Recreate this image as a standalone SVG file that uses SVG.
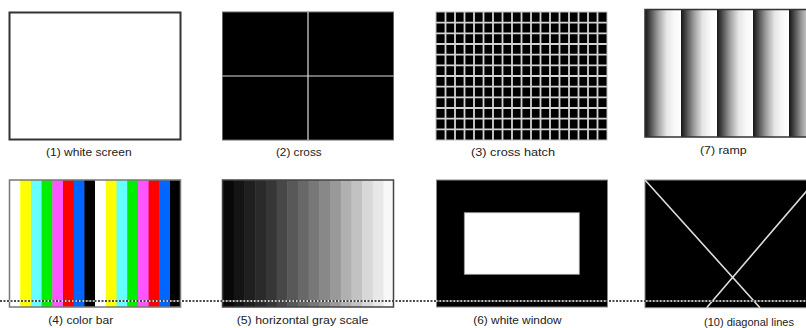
<svg xmlns="http://www.w3.org/2000/svg" width="806" height="328" viewBox="0 0 806 328">
<style>
.lbl{font-family:"Liberation Sans",Arial,sans-serif;font-size:11.5px;fill:#222;text-anchor:middle}
.frame{fill:none;stroke:#333;stroke-width:1.5}
.grid{fill:none;stroke:#d4d4d4;stroke-width:1.8}
.bar{height:127px}
</style>
<defs>
<linearGradient id="ramp" x1="0" y1="0" x2="1" y2="0">
<stop offset="0" stop-color="#151515"/>
<stop offset="0.1" stop-color="#3a3a3a"/>
<stop offset="0.35" stop-color="#9a9a9a"/>
<stop offset="0.6" stop-color="#e6e6e6"/>
<stop offset="0.8" stop-color="#f8f8f8"/>
<stop offset="1" stop-color="#ffffff"/>
</linearGradient>
</defs>
<rect width="806" height="328" fill="#fff"/>

<g id="p1-white-screen">
<rect x="9.5" y="12.5" width="171" height="127" fill="#fff" stroke="#333" stroke-width="2"/>
<text class="lbl" x="88.8" y="156" textLength="85.7" lengthAdjust="spacingAndGlyphs">(1) white screen</text>
</g>

<g id="p2-cross">
<rect x="222.5" y="12" width="171" height="128" fill="#000" stroke="#666" stroke-width="1"/>
<path d="M308 12V140M222.5 76H393.5" stroke="#ddd" stroke-width="1.2" fill="none"/>
<text class="lbl" x="298.8" y="156" textLength="45.7" lengthAdjust="spacingAndGlyphs">(2) cross</text>
</g>

<g id="p3-cross-hatch">
<rect x="436" y="12" width="171" height="128" fill="#000"/>
<path class="grid" d="M445.5 12V140M455 12V140M464.5 12V140M474 12V140M483.5 12V140M493 12V140M502.5 12V140M512 12V140M521.5 12V140M531 12V140M540.5 12V140M550 12V140M559.5 12V140M569 12V140M578.5 12V140M588 12V140M597.5 12V140M436 22.67H607M436 33.33H607M436 44H607M436 54.67H607M436 65.33H607M436 76H607M436 86.67H607M436 97.33H607M436 108H607M436 118.67H607M436 129.33H607"/>
<rect x="436" y="12" width="171" height="128" fill="none" stroke="#bbb" stroke-width="1"/>
<text class="lbl" x="513" y="156" textLength="84" lengthAdjust="spacingAndGlyphs">(3) cross hatch</text>
</g>

<g id="p7-ramp">
<rect x="645" y="9.5" width="36" height="127.5" fill="url(#ramp)"/>
<rect x="681" y="9.5" width="36" height="127.5" fill="url(#ramp)"/>
<rect x="717" y="9.5" width="36" height="127.5" fill="url(#ramp)"/>
<rect x="753" y="9.5" width="36" height="127.5" fill="url(#ramp)"/>
<rect x="789" y="9.5" width="36" height="127.5" fill="url(#ramp)"/>
<rect class="frame" x="645" y="9.5" width="180" height="127.5"/>
<text class="lbl" x="723.3" y="154" textLength="46.7" lengthAdjust="spacingAndGlyphs">(7) ramp</text>
</g>

<g id="p4-color-bar">
<rect x="9.5" y="180" width="11.2" height="127" fill="#fff"/>
<rect x="20.2" y="180" width="11.2" height="127" fill="#ffff00"/>
<rect x="30.9" y="180" width="11.2" height="127" fill="#66ffff"/>
<rect x="41.6" y="180" width="11.2" height="127" fill="#00ee00"/>
<rect x="52.3" y="180" width="11.2" height="127" fill="#ff55ff"/>
<rect x="63" y="180" width="11.2" height="127" fill="#ff0000"/>
<rect x="73.7" y="180" width="11.2" height="127" fill="#0066ff"/>
<rect x="84.4" y="180" width="10.7" height="127" fill="#000"/>
<rect x="95.1" y="180" width="11.2" height="127" fill="#fff"/>
<rect x="105.8" y="180" width="11.2" height="127" fill="#ffff00"/>
<rect x="116.5" y="180" width="11.2" height="127" fill="#66ffff"/>
<rect x="127.2" y="180" width="11.2" height="127" fill="#00ee00"/>
<rect x="137.9" y="180" width="11.2" height="127" fill="#ff55ff"/>
<rect x="148.6" y="180" width="11.2" height="127" fill="#ff0000"/>
<rect x="159.3" y="180" width="11.2" height="127" fill="#0066ff"/>
<rect x="170" y="180" width="10.5" height="127" fill="#000"/>
<rect x="9.5" y="180" width="171" height="127" fill="none" stroke="#777" stroke-width="1.5"/>
<text class="lbl" x="80.8" y="324" textLength="65" lengthAdjust="spacingAndGlyphs">(4) color bar</text>
</g>

<g id="p5-gray-scale">
<rect x="222.5" y="180" width="11.7" height="127" fill="#080808"/>
<rect x="233.7" y="180" width="11.2" height="127" fill="#141414"/>
<rect x="244.4" y="180" width="11.2" height="127" fill="#1f1f1f"/>
<rect x="255.1" y="180" width="11.2" height="127" fill="#2a2a2a"/>
<rect x="265.8" y="180" width="11.2" height="127" fill="#363636"/>
<rect x="276.5" y="180" width="11.2" height="127" fill="#474747"/>
<rect x="287.2" y="180" width="11.2" height="127" fill="#585858"/>
<rect x="297.9" y="180" width="11.2" height="127" fill="#686868"/>
<rect x="308.6" y="180" width="11.2" height="127" fill="#787878"/>
<rect x="319.3" y="180" width="11.2" height="127" fill="#888888"/>
<rect x="330" y="180" width="11.2" height="127" fill="#999999"/>
<rect x="340.7" y="180" width="11.2" height="127" fill="#b0b0b0"/>
<rect x="351.4" y="180" width="11.2" height="127" fill="#c2c2c2"/>
<rect x="362.1" y="180" width="11.2" height="127" fill="#d8d8d8"/>
<rect x="372.8" y="180" width="11.2" height="127" fill="#e8e8e8"/>
<rect x="383.5" y="180" width="10" height="127" fill="#f8f8f8"/>
<rect x="222.5" y="180" width="171" height="127" fill="none" stroke="#444" stroke-width="1.5"/>
<text class="lbl" x="302.5" y="324" textLength="131.7" lengthAdjust="spacingAndGlyphs">(5) horizontal gray scale</text>
</g>

<g id="p6-white-window">
<rect x="436.5" y="180" width="171" height="127" fill="#000" stroke="#888" stroke-width="1"/>
<rect x="464.3" y="212.7" width="115" height="61.6" fill="#fff" stroke="#999" stroke-width="0.8"/>
<text class="lbl" x="517.5" y="324" textLength="88.4" lengthAdjust="spacingAndGlyphs">(6) white window</text>
</g>

<g id="p10-diagonal-lines">
<rect x="645" y="180" width="171" height="127.7" fill="#000" stroke="#888" stroke-width="1"/>
<path d="M645 180L760 307.7M706.7 307.7L816 180" stroke="#ddd" stroke-width="1.6" fill="none"/>
<text class="lbl" x="749" y="326" textLength="90" lengthAdjust="spacingAndGlyphs">(10) diagonal lines</text>
</g>

<g id="connectors">
<line x1="0" y1="301" x2="806" y2="301" stroke="#fff" stroke-width="1.6"/>
<line x1="0" y1="301" x2="806" y2="301" stroke="#111" stroke-width="1.6" stroke-dasharray="2 1.5"/>
</g>
</svg>
